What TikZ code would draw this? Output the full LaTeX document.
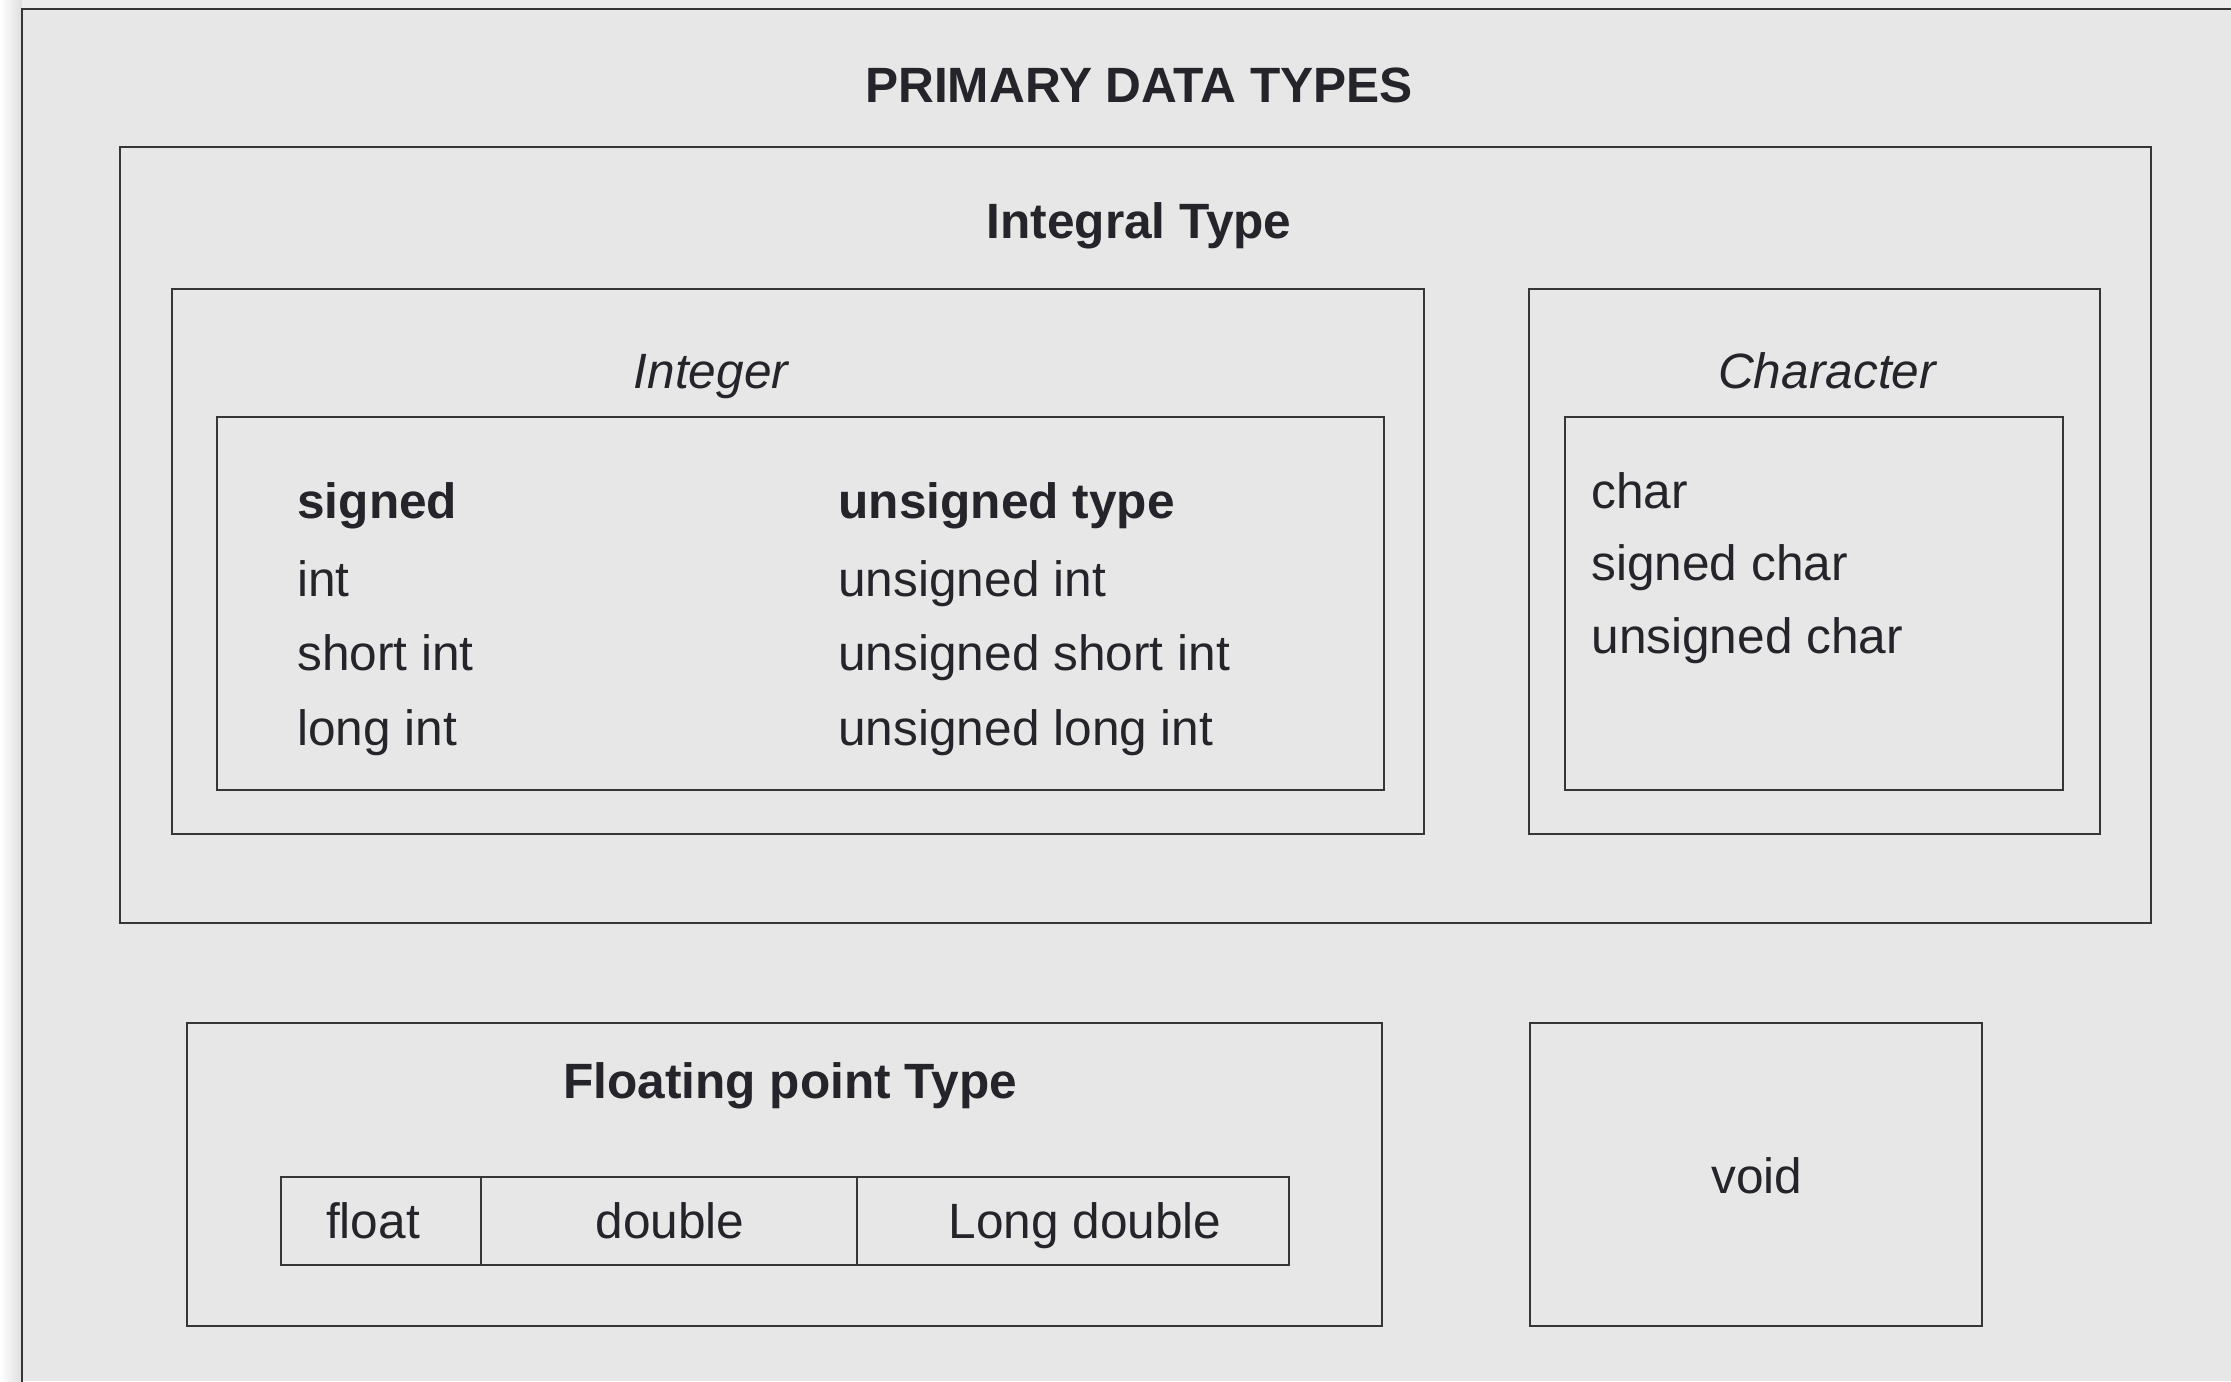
\documentclass[tikz,border=0pt]{standalone}
\usepackage{fontspec}
\setmainfont{Liberation Sans}
\usetikzlibrary{fit}
\definecolor{panel}{HTML}{E6E7E6}
\definecolor{ink}{HTML}{363636}
\definecolor{txt}{HTML}{24242A}
\begin{document}
\begin{tikzpicture}[x=0.5pt,y=-0.5pt,
  frame/.style={draw=ink,line width=1.4pt},
  box/.style={frame,inner sep=0pt,rectangle},
  lbl/.style={text=txt,inner sep=0pt,anchor=base,font=\fontsize{24.8pt}{29pt}\selectfont},
  lblw/.style={lbl,anchor=base west},
  head/.style={lbl,font=\fontsize{24.8pt}{29pt}\selectfont\bfseries},
  sub/.style={lbl,font=\fontsize{24.8pt}{29pt}\selectfont\itshape}]
\useasboundingbox (0,0) rectangle (2231,1381);
% page background with a soft shadow on the left of the panel
\fill[white] (0,0) rectangle (2231,1381);
\shade[left color=white,right color=black!13] (0,0) rectangle (22,1381);
\fill[black!7] (22,0) rectangle (2231,9);
\fill[panel] (22,9) rectangle (2231,1381);
\draw[frame] (22,1390) -- (22,9) -- (2240,9);

\node[head] (title) at (1139,102) {PRIMARY DATA TYPES};

% integral types
\node[box,fit={(120,147) (2151,923)}] (integral) {};
\node[head] (integralT) at (1139,238) {Integral Type};

\node[box,fit={(172,289) (1424,834)}] (integer) {};
\node[sub] (integerT) at (711,388) {Integer};
\node[box,fit={(217,417) (1384,790)}] (intlist) {};
\node[head,anchor=base west] (signedH) at (297,518) {signed};
\node[lblw] (s1) at (297,596) {int};
\node[lblw] (s2) at (297,670) {short int};
\node[lblw] (s3) at (297,745) {long int};
\node[head,anchor=base west] (unsignedH) at (838,518) {unsigned type};
\node[lblw] (u1) at (838,596) {unsigned int};
\node[lblw] (u2) at (838,670) {unsigned short int};
\node[lblw] (u3) at (838,745) {unsigned long int};

\node[box,fit={(1529,289) (2100,834)}] (character) {};
\node[sub] (characterT) at (1827,388) {Character};
\node[box,fit={(1565,417) (2063,790)}] (charlist) {};
\node[lblw] (c1) at (1591,508) {char};
\node[lblw] (c2) at (1591,580) {signed char};
\node[lblw] (c3) at (1591,653) {unsigned char};

% floating point types
\node[box,fit={(187,1023) (1382,1326)}] (floating) {};
\node[head] (floatingT) at (790,1098) {Floating point Type};
\node[box,fit={(281,1177) (481,1265)}] (cfloat) {};
\node[box,fit={(481,1177) (857,1265)}] (cdouble) {};
\node[box,fit={(857,1177) (1289,1265)}] (cldouble) {};
\node[lbl] (tfloat) at (373,1238) {float};
\node[lbl] (tdouble) at (670,1238) {double};
\node[lbl] (tldouble) at (1085,1238) {Long double};

% void
\node[box,fit={(1530,1023) (1982,1326)}] (void) {};
\node[lbl] (tvoid) at (1757,1193) {void};
\end{tikzpicture}
\end{document}
